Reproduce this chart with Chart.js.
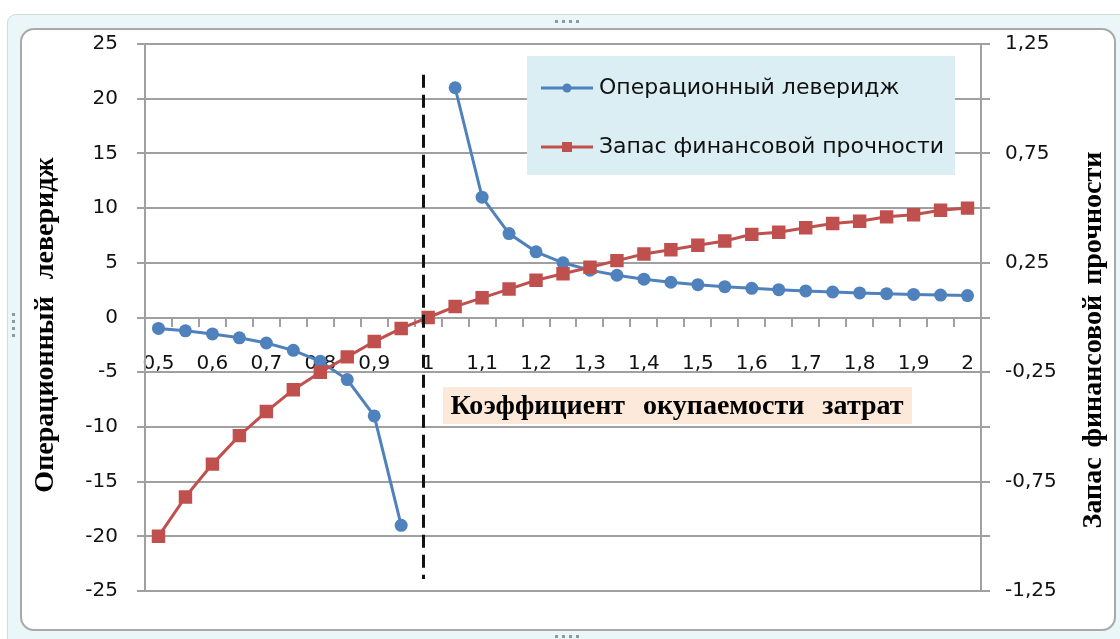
<!DOCTYPE html>
<html>
<head>
<meta charset="utf-8">
<script src="https://cdn.jsdelivr.net/npm/chart.js"></script>
<style>
body{margin:0;width:1120px;height:639px;overflow:hidden;background:#fff;position:relative}
.frame{position:absolute;left:7px;top:14px;width:1130px;height:640px;background:#eaf6f8;border:1px solid #cfdcdf;border-radius:9px}
.panel{position:absolute;left:20px;top:28px;width:1092px;height:599px;background:#fff;border:2px solid #a9a9a9;border-radius:14px}
.dots{position:absolute;background:radial-gradient(circle,#8e9a9c 1.5px,transparent 2px) 0 0/7px 7px}
#chart{position:absolute;left:0;top:0}
</style>
</head>
<body>
<div class="frame"></div>
<div class="dots" style="left:553px;top:18px;width:28px;height:7px"></div>
<div class="dots" style="left:10px;top:311px;width:7px;height:28px"></div>
<div class="dots" style="left:553px;top:633px;width:28px;height:7px"></div>
<div class="panel"></div>
<canvas id="chart" width="1120" height="639"></canvas>
<script>
// Коэффициент окупаемости затрат
var coefLabels = ['0,5','0,55','0,6','0,65','0,7','0,75','0,8','0,85','0,9','0,95','1',
    '1,05','1,1','1,15','1,2','1,25','1,3','1,35','1,4','1,45','1,5',
    '1,55','1,6','1,65','1,7','1,75','1,8','1,85','1,9','1,95','2'];

// left axis
var leverage = [-1, -1.22, -1.5, -1.86, -2.33, -3, -4, -5.67, -9, -19, null,
    21, 11, 7.67, 6, 5, 4.33, 3.86, 3.5, 3.22, 3,
    2.82, 2.67, 2.54, 2.43, 2.33, 2.25, 2.18, 2.11, 2.05, 2];

// right axis
var safetyMargin = [-1, -0.82, -0.67, -0.54, -0.43, -0.33, -0.25, -0.18, -0.11, -0.05, 0,
    0.05, 0.09, 0.13, 0.17, 0.2, 0.23, 0.26, 0.29, 0.31, 0.33,
    0.35, 0.38, 0.39, 0.41, 0.43, 0.44, 0.46, 0.47, 0.49, 0.5];

var seriesNames = ['Операционный леверидж', 'Запас финансовой прочности'];
var xTitle = 'Коэффициент окупаемости затрат';
var yTitle = 'Операционный леверидж';
var y1Title = 'Запас финансовой прочности';

var blue = '#4f81bd';
var red = '#c0504d';
var gridColor = '#a0a0a0';
var tickFont = {family: 'DejaVu Sans', size: 20};
var titleFont = 'bold 28px "Liberation Serif"';

function comma(v){
    return String(v).replace('.', ',');
}

function title(ctx, text, x, y, rot, gap){
    ctx.save();
    ctx.translate(x, y);
    ctx.rotate(rot);
    ctx.fillStyle = '#000';
    ctx.font = titleFont;
    ctx.wordSpacing = gap + 'px';
    ctx.textAlign = 'center';
    ctx.textBaseline = 'middle';
    ctx.fillText(text, 0, 0);
    ctx.restore();
}

var decor = {
    id: 'decor',
    afterDatasetsDraw: function(chart){
        var ctx = chart.ctx;
        var x = chart.scales.x, y = chart.scales.y;

        // dashed line near 1
        var px = Math.round(x.getPixelForValue(9.8)) + 0.5;
        ctx.save();
        ctx.strokeStyle = '#111';
        ctx.lineWidth = 3;
        ctx.setLineDash([13, 7]);
        ctx.beginPath();
        ctx.moveTo(px, y.getPixelForValue(22.2));
        ctx.lineTo(px, y.getPixelForValue(-23.9));
        ctx.stroke();
        ctx.restore();

        // legend
        ctx.save();
        ctx.fillStyle = '#dbeef4';
        ctx.fillRect(527, 56, 428, 119);
        ctx.font = '22px "DejaVu Sans"';
        ctx.textBaseline = 'middle';
        chart.data.datasets.forEach(function(ds, i){
            var ly = 88 + i * 59;
            ctx.strokeStyle = ds.borderColor;
            ctx.lineWidth = 3;
            ctx.beginPath();
            ctx.moveTo(541, ly);
            ctx.lineTo(593, ly);
            ctx.stroke();
            ctx.fillStyle = ds.borderColor;
            if (ds.pointStyle === 'rect') {
                ctx.fillRect(562, ly - 5, 10, 10);
            } else {
                ctx.beginPath();
                ctx.arc(567, ly, 4.5, 0, Math.PI * 2);
                ctx.fill();
            }
            ctx.fillStyle = '#111';
            ctx.fillText(ds.label, 599, ly);
        });
        ctx.restore();

        // x axis title
        ctx.save();
        ctx.fillStyle = '#fde9d9';
        ctx.fillRect(443, 387, 469, 37);
        ctx.restore();
        title(ctx, xTitle, 677, 407, 0, 11);
    },
    afterDraw: function(chart){
        var ctx = chart.ctx;
        title(ctx, yTitle, 46, 325, -Math.PI / 2, 10);
        title(ctx, y1Title, 1094, 340, -Math.PI / 2, 3);
    }
};

var ctx = document.getElementById('chart').getContext('2d');
var chart = new Chart(ctx, {
    type: 'line',
    data: {
        labels: coefLabels,
        datasets: [{
            label: seriesNames[0],
            data: leverage,
            yAxisID: 'y',
            borderColor: blue,
            backgroundColor: blue,
            borderWidth: 3,
            pointStyle: 'circle',
            pointRadius: 6.5,
            pointBorderWidth: 0,
            spanGaps: false,
            order: 1
        }, {
            label: seriesNames[1],
            data: safetyMargin,
            yAxisID: 'y1',
            borderColor: red,
            backgroundColor: red,
            borderWidth: 3,
            pointStyle: 'rect',
            pointRadius: 9.5,
            pointBorderWidth: 0,
            order: 0
        }]
    },
    options: {
        responsive: false,
        animation: false,
        layout: {padding: {top: 44, bottom: 48, left: 0, right: 0}},
        plugins: {
            legend: {display: false},
            tooltip: {enabled: false}
        },
        scales: {
            x: {
                type: 'category',
                position: {y: 0},
                offset: true,
                grid: {
                    offset: true,
                    drawOnChartArea: false,
                    drawTicks: true,
                    tickLength: 8,
                    color: gridColor,
                    lineWidth: 2
                },
                border: {display: true, color: gridColor, width: 2},
                ticks: {
                    autoSkip: false,
                    maxRotation: 0,
                    padding: 26,
                    font: tickFont,
                    color: '#111',
                    callback: function(v, i){ return i % 2 === 0 ? coefLabels[i] : ''; }
                }
            },
            y: {
                position: 'left',
                min: -25,
                max: 25,
                ticks: {stepSize: 5, padding: 19, font: tickFont, color: '#111'},
                grid: {color: gridColor, lineWidth: 2, tickLength: 8},
                border: {color: gridColor, width: 2},
                afterFit: function(s){ s.width = 145; }
            },
            y1: {
                position: 'right',
                min: -1.25,
                max: 1.25,
                ticks: {
                    stepSize: 0.25,
                    padding: 15,
                    font: tickFont,
                    color: '#111',
                    callback: function(v, i){ return i % 2 === 0 ? comma(v) : ''; }
                },
                grid: {drawOnChartArea: false, color: gridColor, lineWidth: 2, tickLength: 9},
                border: {color: gridColor, width: 2},
                afterFit: function(s){ s.width = 139; }
            }
        }
    },
    plugins: [decor]
});
</script>
</body>
</html>
